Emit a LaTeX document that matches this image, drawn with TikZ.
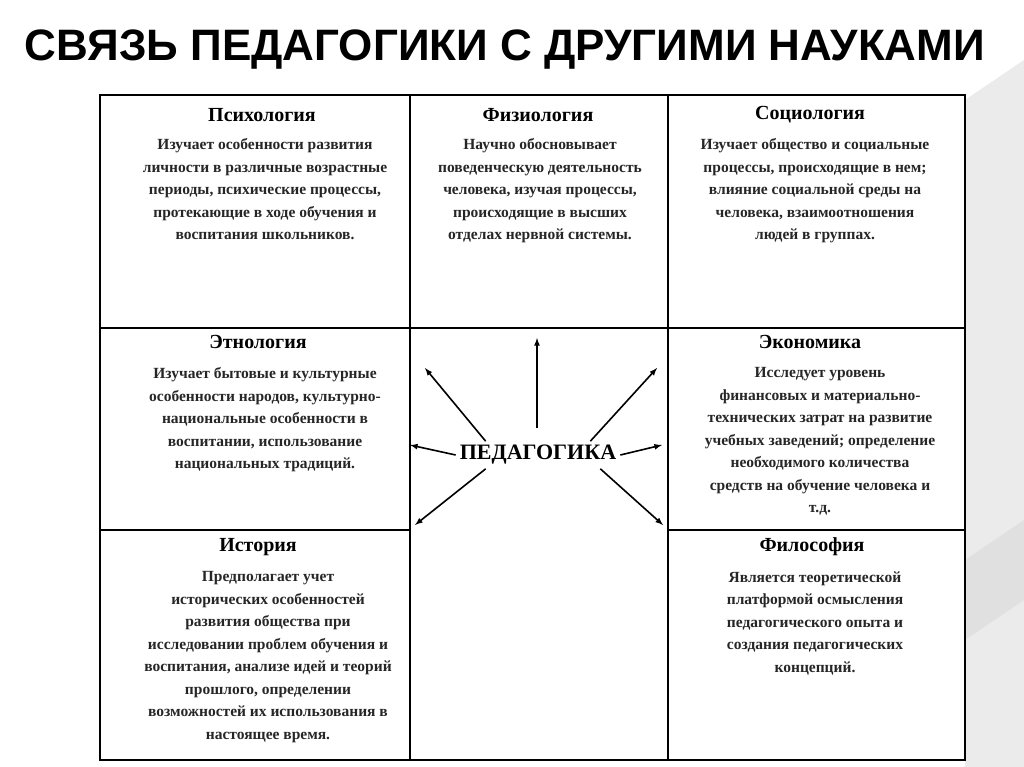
\documentclass[tikz,border=0pt]{standalone}
\usepackage{fontspec}
\setmainfont{Liberation Serif}
\newfontfamily\titlefont{Liberation Sans}
\begin{document}
\begin{tikzpicture}[x=1pt,y=-1pt,
  grid/.style={line width=1.6pt,black},
  head/.style={font=\bfseries\fontsize{20}{22}\selectfont,anchor=center},
  body/.style={font=\bfseries\fontsize{15.5}{22.5}\selectfont,align=center,anchor=north,text=black!85},
  arr/.style={-latex,line width=1.6pt}]
\useasboundingbox (0,0) rectangle (1024,767);
\fill[white] (0,0) rectangle (1024,767);
\fill[black!8] (965,100) -- (1024,60) -- (1024,767) -- (965,767) -- cycle;
\fill[black!12] (965,560) -- (1024,520) -- (1024,600) -- (965,640) -- cycle;
\node (title) at (505,50) {\resizebox{960pt}{!}{\titlefont\bfseries СВЯЗЬ ПЕДАГОГИКИ С ДРУГИМИ НАУКАМИ}};
% grid
\draw[grid] (100,95) rectangle (965,760);
\draw[grid] (410,95) -- (410,760);
\draw[grid] (668,95) -- (668,760);
\draw[grid] (100,328) -- (965,328);
\draw[grid] (100,530) -- (410,530);
\draw[grid] (668,530) -- (965,530);
% cells
\node[head] (h1) at (262,115) {Психология};
\node[body] (b1) at (265,135) {Изучает особенности развития\\личности в различные возрастные\\периоды, психические процессы,\\протекающие в ходе обучения и\\воспитания школьников.};
\node[head] (h2) at (538,115) {Физиология};
\node[body] (b2) at (540,135) {Научно обосновывает\\поведенческую деятельность\\человека, изучая процессы,\\происходящие в высших\\отделах нервной системы.};
\node[head] (h3) at (810,115) {Социология};
\node[body] (b3) at (815,135) {Изучает общество и социальные\\процессы, происходящие в нем;\\влияние социальной среды на\\человека, взаимоотношения\\людей в группах.};
\node[head] (h4) at (258,342) {Этнология};
\node[body] (b4) at (265,364) {Изучает бытовые и культурные\\особенности народов, культурно-\\национальные особенности в\\воспитании, использование\\национальных традиций.};
\node[head] (h5) at (810,342) {Экономика};
\node[body] (b5) at (820,364) {Исследует уровень\\финансовых и материально-\\технических затрат на развитие\\учебных заведений; определение\\необходимого количества\\средств на обучение человека и\\т.д.};
\node[head] (h6) at (258,547) {История};
\node[body] (b6) at (268,568) {Предполагает учет\\исторических особенностей\\развития общества при\\исследовании проблем обучения и\\воспитания, анализе идей и теорий\\прошлого, определении\\возможностей их использования в\\настоящее время.};
\node[head] (h7) at (812,547) {Философия};
\node[body] (b7) at (815,568) {Является теоретической\\платформой осмысления\\педагогического опыта и\\создания педагогических\\концепций.};
% center
\node[font=\bfseries\fontsize{22}{24}\selectfont,inner sep=4pt] (ped) at (538,455) {ПЕДАГОГИКА};
\coordinate (aU) at (537,338);
\coordinate (aUL) at (425,368);
\coordinate (aUR) at (657,368);
\coordinate (aL) at (410,445);
\coordinate (aR) at (662,445);
\coordinate (aDL) at (415,525);
\coordinate (aDR) at (663,525);
\draw[arr] (537,428) -- (aU);
\draw[arr] (ped.north west) ++(30,0) -- (aUL);
\draw[arr] (ped.north east) ++(-30,0) -- (aUR);
\draw[arr] (ped.west) -- (aL);
\draw[arr] (ped.east) -- (aR);
\draw[arr] (ped.south west) ++(30,0) -- (aDL);
\draw[arr] (ped.south east) ++(-20,0) -- (aDR);
\end{tikzpicture}
\end{document}
